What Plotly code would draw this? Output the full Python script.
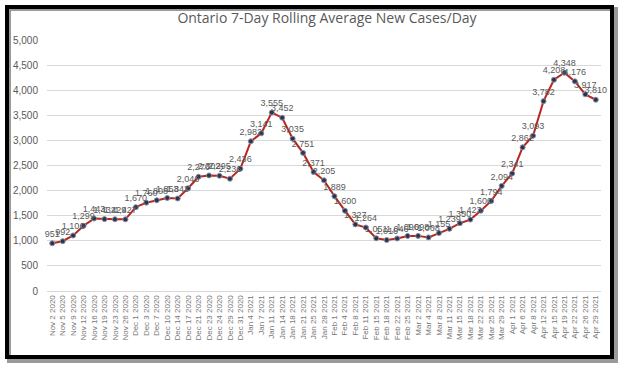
import plotly.graph_objects as go

dates = ["Nov 2 2020", "Nov 5 2020", "Nov 9 2020", "Nov 12 2020", "Nov 16 2020", "Nov 19 2020",
         "Nov 23 2020", "Nov 26 2020", "Dec 1 2020", "Dec 3 2020", "Dec 7 2020", "Dec 10 2020",
         "Dec 14 2020", "Dec 17 2020", "Dec 21 2020", "Dec 23 2020", "Dec 24 2020", "Dec 29 2020",
         "Dec 31 2020", "Jan 4 2021", "Jan 7 2021", "Jan 11 2021", "Jan 14 2021", "Jan 18 2021",
         "Jan 21 2021", "Jan 25 2021", "Jan 28 2021", "Feb 1 2021", "Feb 4 2021", "Feb 8 2021",
         "Feb 11 2021", "Feb 15 2021", "Feb 18 2021", "Feb 22 2021", "Feb 25 2021", "Mar 2 2021",
         "Mar 4 2021", "Mar 8 2021", "Mar 11 2021", "Mar 15 2021", "Mar 18 2021", "Mar 22 2021",
         "Mar 25 2021", "Mar 29 2021", "Apr 1 2021", "Apr 6 2021", "Apr 8 2021", "Apr 12 2021",
         "Apr 15 2021", "Apr 19 2021", "Apr 22 2021", "Apr 26 2021", "Apr 29 2021"]

cases = [951, 992, 1106, 1299, 1443, 1432, 1429, 1427, 1670, 1760, 1808, 1853,
         1843, 2046, 2276, 2302, 2295, 2236, 2436, 2982, 3141, 3555, 3452, 3035,
         2751, 2371, 2205, 1889, 1600, 1327, 1264, 1051, 1016, 1046, 1096, 1098,
         1068, 1155, 1239, 1350, 1423, 1600, 1794, 2094, 2341, 2862, 3093, 3782,
         4208, 4348, 4176, 3917, 3810]

y_ticks = [0, 500, 1000, 1500, 2000, 2500, 3000, 3500, 4000, 4500, 5000]

W, H = 624, 368
fig = go.Figure()
fig.add_trace(go.Scatter(
    x=dates, y=cases, mode="lines+markers+text",
    line=dict(color="#b8281e", width=2),
    marker=dict(size=5, color="#2b3350", line=dict(color="#8a8fa0", width=1)),
    text=[f"{v:,}" for v in cases], textposition="top center",
    textfont=dict(size=9, color="#595959", family="Liberation Sans"),
    cliponaxis=False, showlegend=False,
))

fig.update_layout(
    width=W, height=H,
    margin=dict(l=0, r=0, t=0, b=0),
    paper_bgcolor="white", plot_bgcolor="white",
    title=dict(text="Ontario 7-Day Rolling Average New Cases/Day",
               x=327 / W, xanchor="center", y=1 - 18 / H, yanchor="middle",
               font=dict(size=14, color="#595959", family="Open Sans")),
    xaxis=dict(type="category", domain=[47 / W, 601 / W], range=[-0.5, len(dates) - 0.5],
               tickangle=-90, tickfont=dict(size=8, color="#767676", family="Liberation Sans"),
               showgrid=False, showline=True, linecolor="#d9d9d9", ticks="", automargin=False),
    yaxis=dict(domain=[1 - 291 / H, 1 - 40 / H], range=[0, 5000], tickvals=y_ticks,
               ticktext=[f"{v:,}" for v in y_ticks],
               tickfont=dict(size=10, color="#595959", family="Liberation Sans"),
               gridcolor="#d9d9d9", zeroline=False, showline=False, automargin=False,
               ticklabelstandoff=8),
    shapes=[
        dict(type="rect", xref="paper", yref="paper", x0=9 / W, x1=616 / W,
             y0=1 - 361 / H, y1=1 - 9 / H, line=dict(color="#9a9a9a", width=4), layer="below"),
        dict(type="rect", xref="paper", yref="paper", x0=7 / W, x1=612 / W,
             y0=1 - 357 / H, y1=1 - 7 / H, line=dict(color="black", width=4), layer="above"),
    ],
)

fig.write_html("out.html", config={"displayModeBar": False},
               post_script="document.body.style.margin='0px';document.body.style.overflow='hidden';")
